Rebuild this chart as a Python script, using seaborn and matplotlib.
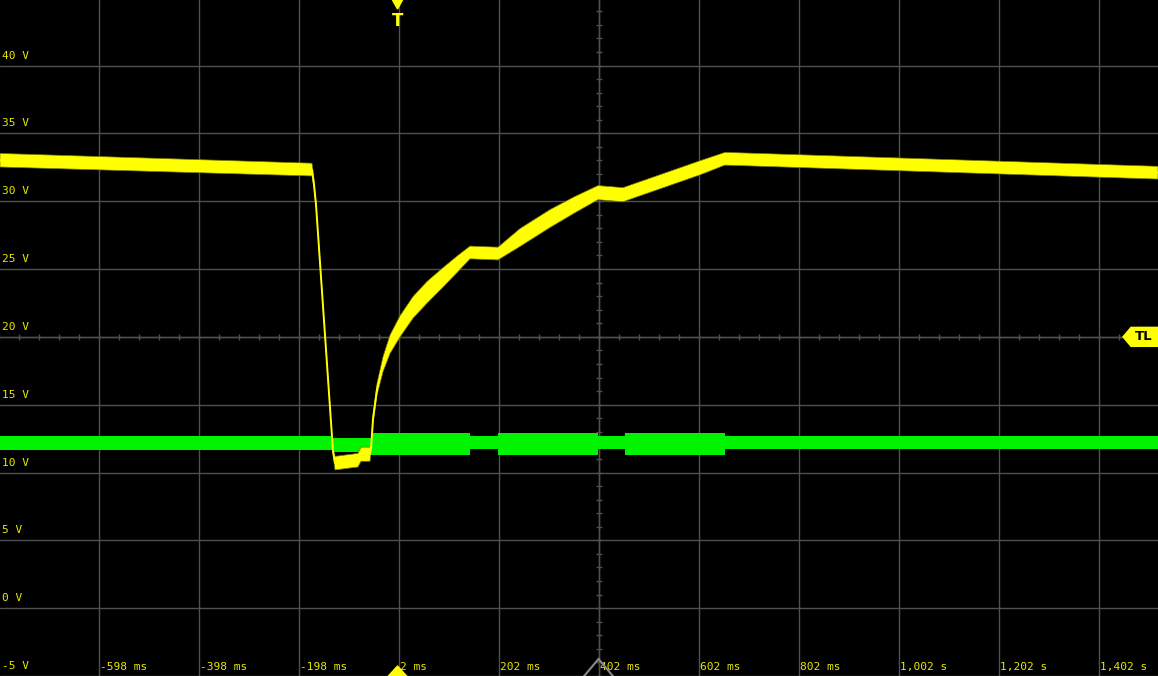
import numpy as np
import matplotlib
matplotlib.use("Agg")
import matplotlib.pyplot as plt
from matplotlib.patches import Polygon
from matplotlib.transforms import IdentityTransform
import seaborn as sns


# =============================================================================
# DATOS LEIDOS DE LA CAPTURA DEL OSCILOSCOPIO
# =============================================================================

# canal 1 (amarillo): tiempo [ms], tension [V], semi-ancho del rizado [V]
yellow_t = [-795, -171, -167, -163, -129, -125, -79, -73, -55, -53, -49, -41,
            -29, -15, 5, 31, 59, 91, 121, 145, 201, 245, 305, 355, 401, 451,
            605, 655, 1521]
yellow_v = [33.02, 32.33, 31.22, 29.75, 11.57, 10.69, 10.91, 11.35, 11.35,
            11.72, 13.93, 16.13, 17.98, 19.45, 20.77, 22.17, 23.28, 24.38,
            25.41, 26.22, 26.14, 27.32, 28.72, 29.75, 30.63, 30.48, 32.46,
            33.13, 32.10]
yellow_rip = [0.50, 0.47, 0.30, 0.15, 0.15, 0.50, 0.50, 0.52, 0.52, 0.30,
              0.30, 0.42, 0.55, 0.68, 0.78, 0.80, 0.80, 0.72, 0.60, 0.47,
              0.47, 0.66, 0.66, 0.60, 0.52, 0.52, 0.52, 0.47, 0.47]

# canal 2 (verde): envolvente del ruido (min / max) [V]
green_t = [-795, -129, -129, -53, -53, 145, 145, 201, 201, 401, 401, 455,
           455, 655, 655, 1521]
green_lo = [11.65, 11.65, 11.50, 11.50, 11.28, 11.28, 11.72, 11.72, 11.28,
            11.28, 11.72, 11.72, 11.28, 11.28, 11.72, 11.72]
green_hi = [12.68, 12.68, 12.53, 12.53, 12.90, 12.90, 12.68, 12.68, 12.90,
            12.90, 12.68, 12.68, 12.90, 12.90, 12.68, 12.68]

# reticula
x_ticks = [-598, -398, -198, 2, 202, 402, 602, 802, 1002, 1202, 1402]
x_labels = ["-598 ms", "-398 ms", "-198 ms", "2 ms", "202 ms", "402 ms",
            "602 ms", "802 ms", "1,002 s", "1,202 s", "1,402 s"]
y_ticks = [40, 35, 30, 25, 20, 15, 10, 5, 0, -5]
y_labels = ["40 V", "35 V", "30 V", "25 V", "20 V", "15 V", "10 V", "5 V",
            "0 V", "-5 V"]

x_lim = (-795, 1521)
y_lim = (-4.91, 44.83)
center_t = 402          # centro horizontal de la pantalla
trigger_t = 0           # posicion del disparo
trigger_level = 20      # nivel de disparo (TL)


# =============================================================================
# GRAFICA
# =============================================================================

W, H = 1158, 676
GRID = "#505050"
YEL = "#ffff00"
TXT = "#e8e800"
GRN = "#00f400"

sns.set_theme(style="dark", rc={"axes.facecolor": "black",
                                "figure.facecolor": "black"})
plt.rcParams["font.family"] = ["DejaVu Sans Mono", "DejaVu Sans"]

fig = plt.figure(figsize=(W / 100, H / 100), dpi=100)
ax = fig.add_axes([0, 0, 1, 1])
ax.set_xlim(*x_lim)
ax.set_ylim(*y_lim)

for s in ax.spines.values():
    s.set_visible(False)

# reticula
ax.set_xticks(x_ticks)
ax.set_yticks(y_ticks)
ax.grid(True, color=GRID, lw=1)
ax.tick_params(length=0, labelbottom=False, labelleft=False)

# marcas pequenas sobre los ejes centrales
marcas_t = np.arange(x_ticks[0] - 200, x_lim[1], 40)
marcas_v = np.arange(-5, 45, 1)
ax.plot(marcas_t, np.full(len(marcas_t), trigger_level),
        ls="none", marker="|", ms=4.5, mew=1, color=GRID)
ax.plot(np.full(len(marcas_v), center_t), marcas_v,
        ls="none", marker="_", ms=4, mew=1, color=GRID)
ax.axhline(trigger_level, color=GRID, lw=1)
ax.axvline(center_t, color=GRID, lw=1)

# canal 2 (verde)
ax.fill_between(green_t, green_lo, green_hi, color=GRN, lw=0, zorder=3)

# canal 1 (amarillo): banda de rizado + traza
yv = np.array(yellow_v)
yr = np.array(yellow_rip)
ax.fill_between(yellow_t, yv - yr, yv + yr, facecolor=YEL,
                edgecolor="#7a7a00", lw=0.5, zorder=4)
sns.lineplot(x=yellow_t, y=yellow_v, ax=ax, color=YEL, lw=1.4,
             estimator=None, sort=False, zorder=5)

# etiquetas de los ejes (dentro de la pantalla)
for v, lab in zip(y_ticks, y_labels):
    ax.annotate(lab, xy=(0, v), xycoords=("axes fraction", "data"),
                xytext=(2, 5), textcoords="offset pixels",
                color=TXT, fontsize=8, ha="left", va="bottom")
for t, lab in zip(x_ticks, x_labels):
    ax.annotate(lab, xy=(t, 0), xycoords=("data", "axes fraction"),
                xytext=(2, 4), textcoords="offset pixels",
                color=TXT, fontsize=8, ha="left", va="bottom")

# marcadores de disparo
px_trig, py_lvl = ax.transData.transform((trigger_t, trigger_level))
px_cent, _ = ax.transData.transform((center_t, trigger_level))
ident = IdentityTransform()

ax.add_patch(Polygon([(px_trig - 5, H), (px_trig + 5, H), (px_trig, H - 9)],
                     closed=True, transform=ident, color=YEL, zorder=6))
ax.text(px_trig, H - 12, "T", transform=ident, ha="center", va="top",
        color=YEL, fontsize=12, fontweight="bold", family="DejaVu Sans")

ax.add_patch(Polygon([(px_trig - 10, -1), (px_trig + 10, -1), (px_trig, 10)],
                     closed=True, transform=ident, color=YEL, zorder=6))
ax.add_patch(Polygon([(px_cent - 16, -2), (px_cent + 16, -2), (px_cent, 17)],
                     closed=True, transform=ident, fill=False,
                     edgecolor="#8a8a8a", lw=1.5, zorder=6))

ax.add_patch(Polygon([(W - 35, py_lvl), (W - 27, py_lvl + 9.5),
                      (W + 1, py_lvl + 9.5), (W + 1, py_lvl - 9.5),
                      (W - 27, py_lvl - 9.5)],
                     closed=True, transform=ident, color=YEL, zorder=6))
ax.text(W - 14, py_lvl, "TL", transform=ident, ha="center", va="center",
        color="black", fontsize=9.5, fontweight="bold", family="DejaVu Sans",
        zorder=7)

fig.savefig("out.png", dpi=100, facecolor="black")
plt.close(fig)
